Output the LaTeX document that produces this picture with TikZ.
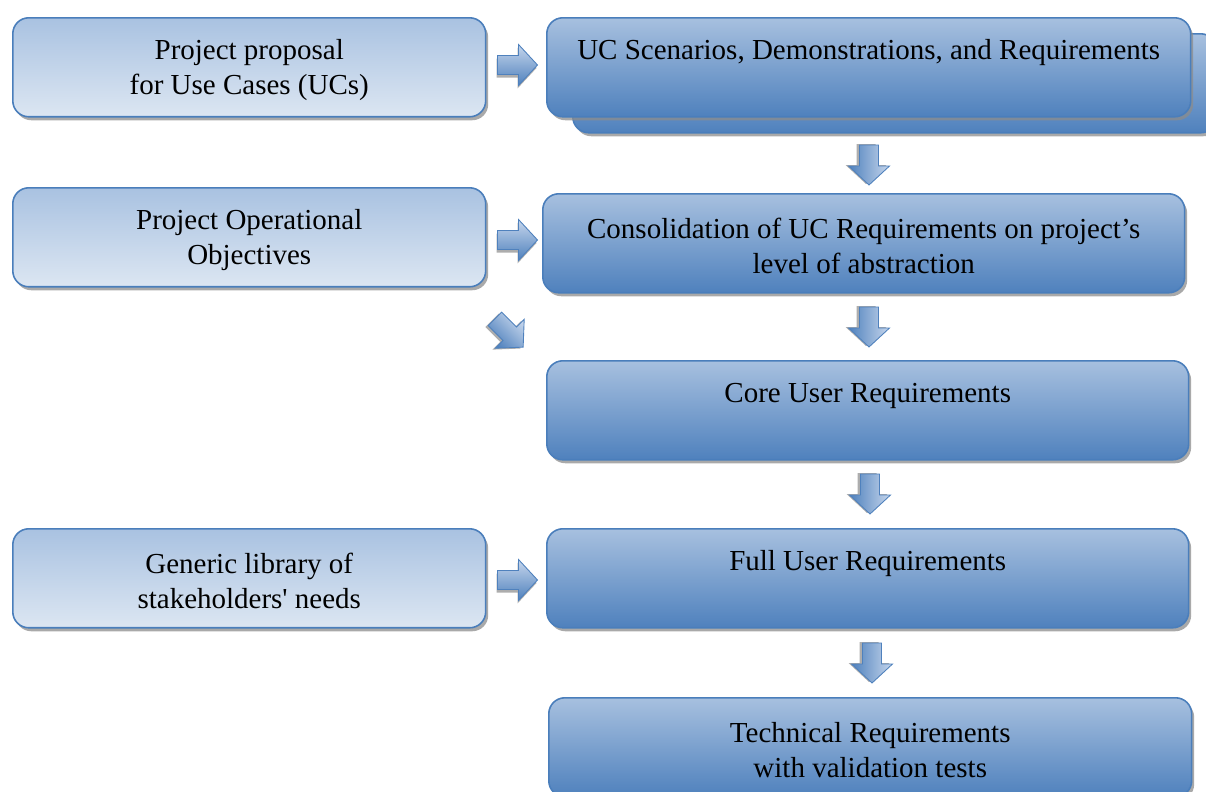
\documentclass[tikz,border=0pt]{standalone}
\usepackage{fontspec}
\setmainfont{Liberation Serif}[Ligatures=TeXOff]
\usetikzlibrary{shadows}
\definecolor{bord}{HTML}{4A7EBB}
\definecolor{ltop}{HTML}{A9C2E1}
\definecolor{lbot}{HTML}{DCE6F2}
\definecolor{rtop}{HTML}{A7C0DF}
\definecolor{rbot}{HTML}{4F81BD}
\definecolor{alight}{HTML}{C6D6EC}
\definecolor{adark}{HTML}{4F81BD}
\begin{document}
\begin{tikzpicture}[x=0.02cm,y=-0.02cm,
  basebox/.style={draw=bord, line width=0.9pt, rounded corners=0.32cm, anchor=north west,
    minimum height=1.98cm, inner sep=0pt,
    drop shadow={shadow xshift=0.05cm, shadow yshift=-0.07cm, fill=black!45, opacity=0.75}},
  lbox/.style={basebox, top color=ltop, bottom color=lbot, minimum width=9.46cm},
  rbox/.style={basebox, top color=rtop, bottom color=rbot},
  txt/.style={align=center, inner sep=0pt, font=\fontsize{16.5}{20}\selectfont},
  pics/barrow/.style={code={
    \fill[black!40, opacity=0.8, shift={(-1,3)}] (-20,-9.5) -- (1,-9.5) -- (1,-20.5) -- (20,0) -- (1,20.5) -- (1,9.5) -- (-20,9.5) -- cycle;
    \path[draw=adark, line width=0.5pt, top color=alight, bottom color=adark, shading angle=#1]
      (-20,-9.5) -- (1,-9.5) -- (1,-20.5) -- (20,0) -- (1,20.5) -- (1,9.5) -- (-20,9.5) -- cycle;
  }},
  pics/barrow/.default=0
]
\useasboundingbox (0,0) rectangle (1206,791);

% left boxes
\node[lbox] (L1) at (12,17) {};
\node[txt] at ([yshift=-0.06cm]L1.center) {Project proposal\\for Use Cases (UCs)};
\node[lbox] (L2) at (12,187) {};
\node[txt] at ([yshift=-0.06cm]L2.center) {Project Operational\\Objectives};
\node[lbox] (L3) at (12,528) {};
\node[txt] at ([yshift=-0.06cm]L3.center) {Generic library of\\stakeholders' needs};

% right boxes
\node[rbox, minimum width=12.88cm] (Aback) at (572,33) {};
\node[rbox, minimum width=12.88cm] (A) at (546,17) {};
\node[txt] at ([yshift=-0.72cm]A.north) {UC Scenarios, Demonstrations, and Requirements};

\node[rbox, minimum width=12.84cm] (B) at (542,193) {};
\node[txt] at ([yshift=-1.06cm]B.north) {Consolidation of UC Requirements on project’s\\level of abstraction};

\node[rbox, minimum width=12.84cm] (C) at (546,360) {};
\node[txt] at ([yshift=-0.72cm]C.north) {Core User Requirements};

\node[rbox, minimum width=12.84cm] (D) at (546,528) {};
\node[txt] at ([yshift=-0.72cm]D.north) {Full User Requirements};

\node[rbox, minimum width=12.86cm] (E) at (548,697) {};
\node[txt] at ([yshift=-1.06cm]E.north) {Technical Requirements\\with validation tests};

% block arrows
\pic at (517.5,65) {barrow=0};
\pic at (517.5,240) {barrow=0};
\pic at (517.5,580) {barrow=0};
\pic[rotate=-45] at (509,333) {barrow=-45};
\pic[rotate=-90] at (869,165) {barrow=-90};
\pic[rotate=-90] at (869,327) {barrow=-90};
\pic[rotate=-90] at (870,494) {barrow=-90};
\pic[rotate=-90] at (872,663) {barrow=-90};
\end{tikzpicture}
\end{document}
